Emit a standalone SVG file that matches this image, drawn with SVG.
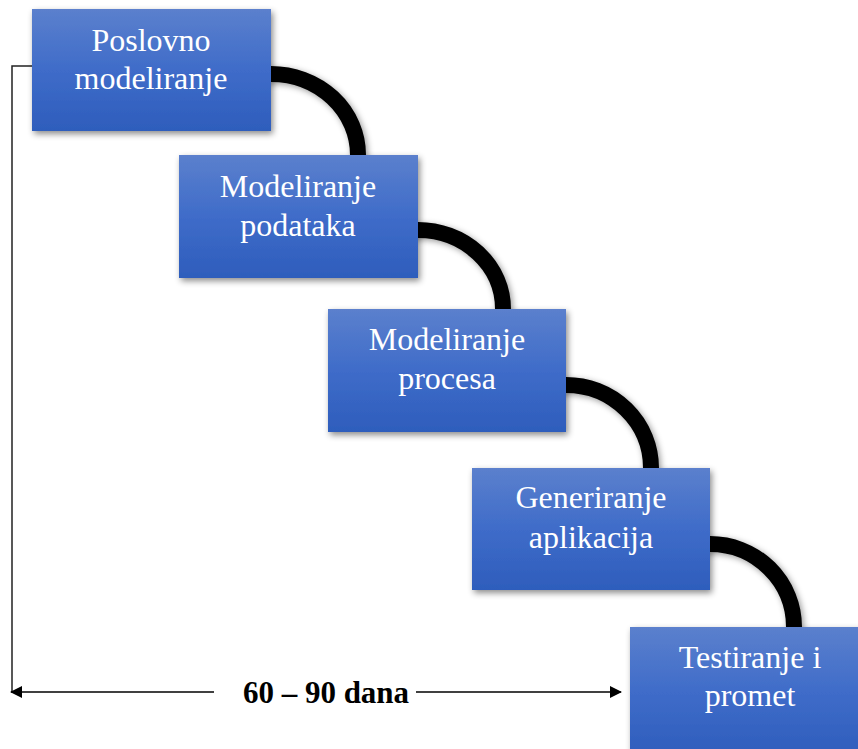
<svg xmlns="http://www.w3.org/2000/svg" width="858" height="749" viewBox="0 0 858 749">
<defs>
<linearGradient id="g" x1="0" y1="0" x2="0" y2="1">
<stop offset="0" stop-color="#5b80cd"/>
<stop offset="0.5" stop-color="#3f6cc9"/>
<stop offset="1" stop-color="#2e5dbc"/>
</linearGradient>
<filter id="sh" x="-10%" y="-10%" width="125%" height="130%">
<feDropShadow dx="2" dy="3" stdDeviation="3" flood-color="#000" flood-opacity="0.45"/>
</filter>
<filter id="ash" x="-20%" y="-20%" width="150%" height="150%">
<feDropShadow dx="2" dy="2" stdDeviation="3" flood-color="#000" flood-opacity="0.4"/>
</filter>
<marker id="ah" viewBox="0 0 12 12" refX="11" refY="6" markerWidth="12" markerHeight="12" markerUnits="userSpaceOnUse" orient="auto-start-reverse">
<path d="M0,0 L12,6 L0,12 Z" fill="#000"/>
</marker>
<style>
.box{fill:url(#g);filter:url(#sh);}
.t{font-family:"Liberation Serif","Times New Roman",serif;font-size:32px;fill:#fff;text-anchor:middle;}
.arc{fill:none;stroke:#000;stroke-width:16;filter:url(#ash);}
.ln{fill:none;stroke:#222;stroke-width:1.5;}
.lbl{font-family:"Liberation Serif","Times New Roman",serif;font-size:31px;font-weight:bold;fill:#000;text-anchor:middle;}
</style>
</defs>
<g id="connectors">
<path class="arc" d="M265 74 L271 74 A87 81 0 0 1 358 155 L358 162"/>
<path class="arc" d="M412 230 L418 230 A85 79 0 0 1 503 309 L503 316"/>
<path class="arc" d="M560 385 L566 385 A85 83 0 0 1 651 468 L651 475"/>
<path class="arc" d="M704 544 L710 544 A84 83 0 0 1 794 627 L794 634"/>
<polyline class="ln" points="34,66 12,66 12,692"/>
<line class="ln" x1="11" y1="692" x2="214" y2="692" marker-start="url(#ah)" style="stroke:#000"/>
<line class="ln" x1="416" y1="692" x2="621" y2="692" marker-end="url(#ah)" style="stroke:#000"/>
<text class="lbl" x="326" y="703">60 – 90 dana</text>
</g>
<g id="n1">
<rect class="box" x="32" y="9" width="239" height="122"/>
<text class="t" x="151" y="51">Poslovno</text>
<text class="t" x="151" y="89">modeliranje</text>
</g>
<g id="n2">
<rect class="box" x="179" y="155" width="239" height="123"/>
<text class="t" x="298" y="197">Modeliranje</text>
<text class="t" x="298" y="236">podataka</text>
</g>
<g id="n3">
<rect class="box" x="328" y="309" width="238" height="123"/>
<text class="t" x="447" y="350">Modeliranje</text>
<text class="t" x="447" y="389">procesa</text>
</g>
<g id="n4">
<rect class="box" x="472" y="468" width="238" height="122"/>
<text class="t" x="591" y="508">Generiranje</text>
<text class="t" x="591" y="548">aplikacija</text>
</g>
<g id="n5">
<rect class="box" x="630" y="627" width="239" height="130"/>
<text class="t" x="750" y="668">Testiranje i</text>
<text class="t" x="750" y="706">promet</text>
</g>
</svg>
